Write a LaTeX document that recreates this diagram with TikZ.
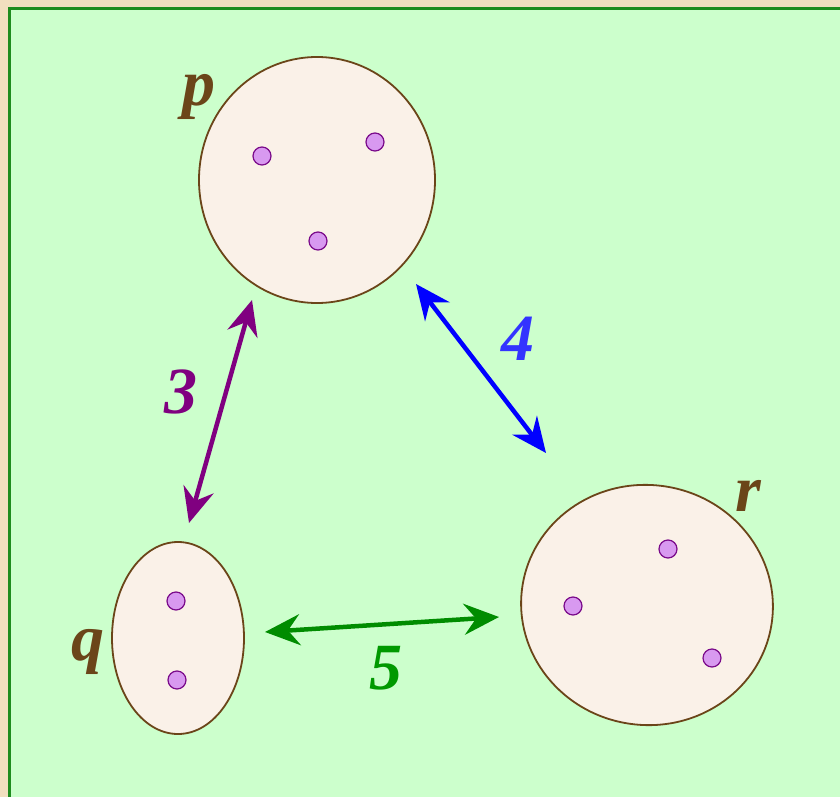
\documentclass[tikz,border=0pt]{standalone}
\usepackage{fontspec}
\setmainfont{Liberation Serif}
\usetikzlibrary{arrows.meta,shapes.geometric}
\definecolor{beige}{HTML}{F1DFBF}
\definecolor{paleg}{HTML}{CCFFCC}
\definecolor{frameg}{HTML}{1E8C1E}
\definecolor{linen}{HTML}{FAF1E8}
\definecolor{brown}{HTML}{6B4519}
\definecolor{dotfill}{HTML}{D899F0}
\definecolor{dotdraw}{HTML}{7A0A8A}
\definecolor{purp}{HTML}{800080}
\definecolor{blu}{HTML}{0000FF}
\definecolor{blul}{HTML}{3333FF}
\definecolor{grn}{HTML}{008C00}
\definecolor{grnl}{HTML}{009900}
\begin{document}
\begin{tikzpicture}[x=1pt,y=-1pt,
  setel/.style={ellipse,draw=brown,fill=linen,line width=1.8pt,inner sep=0pt},
  elem/.style={circle,draw=dotdraw,fill=dotfill,line width=1.2pt,minimum size=18pt,inner sep=0pt},
  setlabel/.style={text=brown,font=\fontsize{66}{66}\selectfont\bfseries\itshape,inner sep=0pt},
  numlabel/.style={font=\fontsize{66}{66}\selectfont\bfseries\itshape,inner sep=0pt},
  dbl/.style={line width=4.5pt,{Stealth[length=35pt,width=31pt,inset=12pt]}-{Stealth[length=35pt,width=31pt,inset=12pt]}}]
\useasboundingbox (0,0) rectangle (840,797);
\fill[beige] (0,0) rectangle (840,797);
\filldraw[fill=paleg,draw=frameg,line width=3pt] (9,9) rectangle (850,810);
% sets
\node[setel,minimum width=236pt,minimum height=246pt] (P) at (317,180) {};
\node[setel,minimum width=132pt,minimum height=192pt] (Q) at (178,638) {};
\node[setel,minimum width=252pt,minimum height=240pt,rotate=-8] (R) at (647,605) {};
% elements
\node[elem] (p1) at (262,156) {};
\node[elem] (p2) at (375,142) {};
\node[elem] (p3) at (318,241) {};
\node[elem] (q1) at (176,601) {};
\node[elem] (q2) at (177,680) {};
\node[elem] (r1) at (668,549) {};
\node[elem] (r2) at (573,606) {};
\node[elem] (r3) at (712,658) {};
% labels
\node[setlabel] (lp) at (199,97) {p};
\node[setlabel] (lq) at (88,652) {q};
\node[setlabel] (lr) at (748,496) {r};
% arrow ends
\coordinate (a1) at (252,300);
\coordinate (a2) at (189,523);
\coordinate (b1) at (416,284);
\coordinate (b2) at (546,453);
\coordinate (c1) at (265,632);
\coordinate (c2) at (499,617);
\draw[dbl,purp] (a1) -- (a2);
\draw[dbl,blu] (b1) -- (b2);
\draw[dbl,grn] (c1) -- (c2);
\node[numlabel,text=purp] (n3) at (181,392) {3};
\node[numlabel,text=blul] (n4) at (518,339) {4};
\node[numlabel,text=grnl] (n5) at (386,668) {5};
\end{tikzpicture}
\end{document}
